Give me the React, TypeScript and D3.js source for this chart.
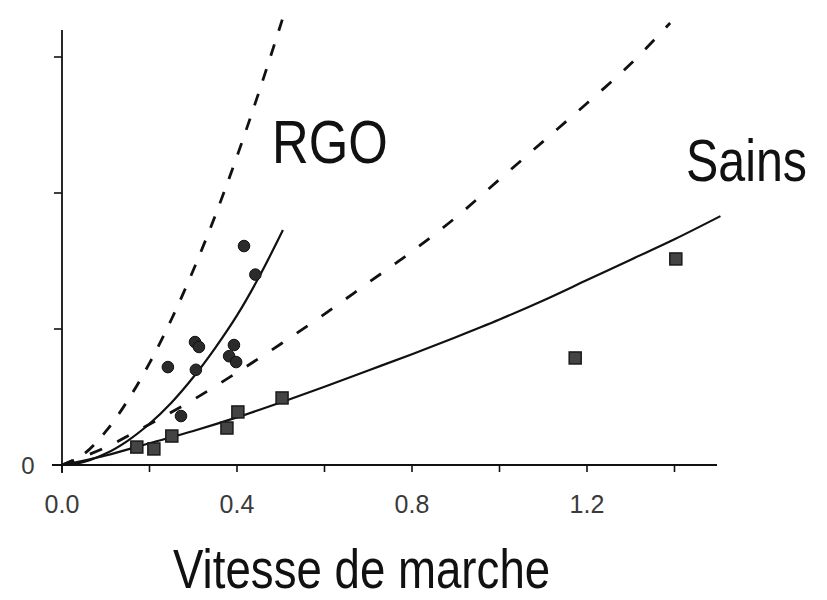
import React from "react";
import * as d3 from "d3";

// ---- data ----
const xTicks = [0.0, 0.4, 0.8, 1.2];
const xMinorTicks = [0.2, 0.6, 1.0, 1.4];
const yTicks = [1, 2, 3];
const yTickLabels = ["0"];

// RGO patients (circles): walking speed, value
const rgoX = [0.242, 0.306, 0.272, 0.304, 0.313, 0.393, 0.382, 0.398, 0.416, 0.442];
const rgoY = [0.72, 0.70, 0.36, 0.904, 0.868, 0.882, 0.80, 0.757, 1.61, 1.40];

// Healthy subjects (squares)
const sainsX = [0.171, 0.21, 0.251, 0.377, 0.402, 0.503, 1.173, 1.403];
const sainsY = [0.132, 0.118, 0.213, 0.272, 0.39, 0.493, 0.787, 1.515];

// RGO fitted curve (solid)
const rgoFitX = [0, 0.05, 0.1, 0.15, 0.2, 0.25, 0.3, 0.35, 0.4, 0.45, 0.505];
const rgoFitY = [0, 0.023, 0.084, 0.178, 0.303, 0.458, 0.645, 0.86, 1.1, 1.38, 1.728];

// RGO upper limit (dashed)
const rgoUpX = [0, 0.05, 0.1, 0.15, 0.2, 0.25, 0.3, 0.35, 0.4, 0.45, 0.505];
const rgoUpY = [0, 0.081, 0.247, 0.473, 0.749, 1.07, 1.432, 1.832, 2.27, 2.74, 3.29];

// Sains fitted curve (solid)
const sainsFitX = [0, 0.1, 0.2, 0.3, 0.4, 0.5, 0.6, 0.7, 0.8, 0.9, 1.0, 1.1, 1.2, 1.3, 1.4, 1.505];
const sainsFitY = [0, 0.07, 0.16, 0.25, 0.35, 0.46, 0.575, 0.695, 0.815, 0.94, 1.07, 1.21, 1.36, 1.51, 1.66, 1.83];

// Sains upper limit (dashed)
const sainsUpX = [0, 0.1, 0.2, 0.3, 0.4, 0.5, 0.6, 0.7, 0.8, 0.9, 1.0, 1.1, 1.2, 1.3, 1.39];
const sainsUpY = [0, 0.13, 0.3, 0.48, 0.68, 0.89, 1.11, 1.34, 1.57, 1.82, 2.1, 2.38, 2.66, 2.95, 3.25];

const groupLabels = ["RGO", "Sains"];
const xAxisTitle = "Vitesse de marche";

// ---- layout ----
const W = 827;
const H = 600;

export default function App() {
  const x = d3.scaleLinear().domain([0, 1.5]).range([62, 718.25]);
  const y = d3.scaleLinear().domain([0, 3]).range([465, 57]);

  const line = d3
    .line<[number, number]>()
    .x((d) => x(d[0]))
    .y((d) => y(d[1]))
    .curve(d3.curveCatmullRom.alpha(0.5));

  const zip = (a: number[], b: number[]) => a.map((v, i) => [v, b[i]] as [number, number]);

  const sans = "'Liberation Sans', Arial, sans-serif";

  return (
    <svg
      width={W}
      height={H}
      style={{ position: "absolute", left: 0, top: 0, background: "#fff" }}
    >
      {/* axes */}
      <line x1={x(0)} x2={x(0)} y1={30} y2={473} stroke="#111" strokeWidth={1.8} />
      <line x1={52} x2={717} y1={y(0)} y2={y(0)} stroke="#111" strokeWidth={2.2} />
      {yTicks.map((t) => (
        <line key={"yt" + t} x1={x(0) - 8} x2={x(0)} y1={y(t)} y2={y(t)} stroke="#111" strokeWidth={1.6} />
      ))}
      {[...xTicks, ...xMinorTicks].map((t) => (
        <line key={"xt" + t} x1={x(t)} x2={x(t)} y1={y(0)} y2={y(0) + 7} stroke="#111" strokeWidth={1.6} />
      ))}
      {xTicks.map((t) => (
        <text
          key={"xl" + t}
          x={x(t)}
          y={513}
          textAnchor="middle"
          fontFamily={sans}
          fontSize={25}
          fill="#3a3a3a"
        >
          {t.toFixed(1)}
        </text>
      ))}
      <text x={28} y={474} textAnchor="middle" fontFamily={sans} fontSize={24} fill="#3a3a3a">
        {yTickLabels[0]}
      </text>

      {/* curves */}
      <path d={line(zip(rgoUpX, rgoUpY)) || ""} fill="none" stroke="#111" strokeWidth={2.8} strokeDasharray="12,14" />
      <path d={line(zip(sainsUpX, sainsUpY)) || ""} fill="none" stroke="#111" strokeWidth={2.8} strokeDasharray="13,17" />
      <path d={line(zip(rgoFitX, rgoFitY)) || ""} fill="none" stroke="#111" strokeWidth={2.2} />
      <path d={line(zip(sainsFitX, sainsFitY)) || ""} fill="none" stroke="#111" strokeWidth={2.2} />

      {/* points */}
      {rgoX.map((v, i) => (
        <circle key={"c" + i} cx={x(v)} cy={y(rgoY[i])} r={5.8} fill="#2b2b2b" stroke="#111" strokeWidth={1} />
      ))}
      {sainsX.map((v, i) => (
        <rect
          key={"s" + i}
          x={x(v) - 6}
          y={y(sainsY[i]) - 6}
          width={12}
          height={12}
          fill="#444"
          stroke="#1a1a1a"
          strokeWidth={1.5}
        />
      ))}

      {/* labels (condensed sans) */}
      <text transform="translate(272,163) scale(0.82,1)" fontFamily={sans} fontSize={62} fill="#111">
        {groupLabels[0]}
      </text>
      <text transform="translate(686,181) scale(0.82,1)" fontFamily={sans} fontSize={59} fill="#111">
        {groupLabels[1]}
      </text>
      <text transform="translate(173,588) scale(0.83,1)" fontFamily={sans} fontSize={55} fill="#111">
        {xAxisTitle}
      </text>
    </svg>
  );
}
